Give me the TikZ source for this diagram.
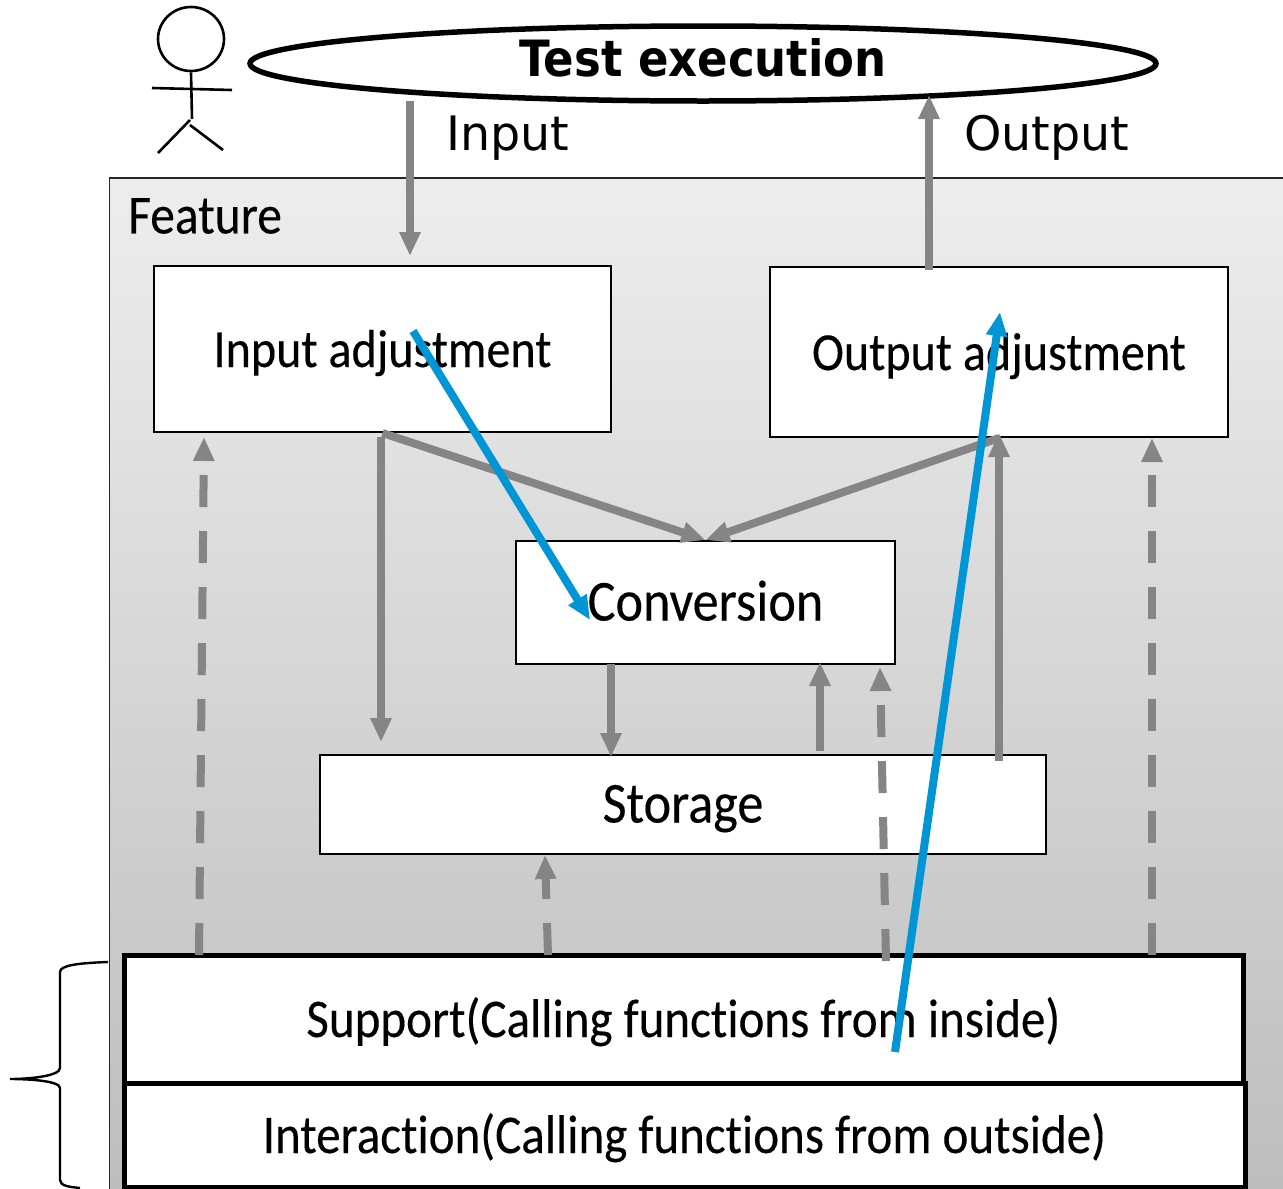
\documentclass[tikz,border=0pt]{standalone}
\usepackage{fontspec}
\setmainfont[Ligatures=NoCommon,FakeStretch=0.9,FakeBold=0.25]{Carlito}
\newfontfamily\labelfont{DejaVu Sans}
\newfontfamily\titlefont[FakeStretch=0.9]{DejaVu Sans}
\usetikzlibrary{arrows.meta,shapes.geometric}
\definecolor{flowgray}{HTML}{858585}
\definecolor{pathblue}{HTML}{0096D6}
\newcommand{\boxtext}[1]{\raisebox{-18pt}[0pt][0pt]{#1}}
\tikzset{
  box/.style={draw=black,fill=white,line width=2pt,inner sep=0pt,font=\fontsize{53.5}{56}\selectfont},
  bigbox/.style={box,font=\fontsize{58}{60}\selectfont},
  layerbox/.style={box,line width=5pt,font=\fontsize{54.5}{56}\selectfont},
  flow/.style={draw=flowgray,line width=8pt,-{Triangle[length=24pt,width=20pt]}},
  callflow/.style={flow,dash pattern=on 32pt off 24pt},
  testpath/.style={draw=pathblue,line width=8pt,-{Triangle[length=24pt,width=20pt]}},
  actor/.style={line width=2.6pt},
  caption/.style={inner sep=0pt,font=\labelfont\fontsize{47.5}{50}\selectfont}
}
\begin{document}
\begin{tikzpicture}[x=1pt,y=-1pt]
  \useasboundingbox (0,0) rectangle (1283,1189);
  \node[draw=black!85,line width=1.8pt,top color=black!7,bottom color=black!26,minimum width=1200pt,minimum height=1030pt,inner sep=0pt,anchor=north west] (feature) at (108.5,177) {};
  \node[anchor=west,inner sep=0pt,font=\fontsize{55}{56}\selectfont] (featurename) at (128,216) {Feature};

  \node[box,minimum width=457pt,minimum height=166pt] (inadjust) at (382.5,349) {\boxtext{Input adjustment}};
  \node[box,minimum width=458pt,minimum height=170pt] (outadjust) at (999,352) {\boxtext{Output adjustment}};
  \node[bigbox,minimum width=379pt,minimum height=123pt] (conversion) at (705.5,602.5) {\boxtext{Conversion}};
  \node[bigbox,minimum width=726pt,minimum height=99pt] (storage) at (683,804.5) {\boxtext{Storage}};
  \node[layerbox,minimum width=1119pt,minimum height=128pt] (support) at (683.5,1019) {\boxtext{Support(Calling functions from inside)}};
  \node[layerbox,minimum width=1121pt,minimum height=104pt] (interaction) at (684.5,1135) {\boxtext{Interaction(Calling functions from outside)}};

  \node[draw=black,line width=5.5pt,ellipse,fill=white,inner sep=0pt,minimum width=906pt,minimum height=75pt,font=\titlefont\bfseries\fontsize{50}{52}\selectfont] (test) at (703,63.5) {\raisebox{-13pt}[0pt][0pt]{Test execution}};
  \node[caption,anchor=west] (inputname) at (446,138) {Input};
  \node[caption,anchor=west] (outputname) at (964,138) {Output};

  % actor
  \node[draw=black,actor,ellipse,inner sep=0pt,minimum width=66pt,minimum height=64pt] (head) at (191,39) {};
  \coordinate (hip) at (192,119);
  \draw[actor] (head.south) -- (hip);
  \draw[actor] (152,88) -- (232,90);
  \draw[actor] (190,120) -- (158,153);
  \draw[actor] (190,125) -- (223,150);

  % brace
  \draw[line width=2.4pt] (108,962) .. controls (80,963) and (60,965) .. (60,972)
    -- (60,1068) .. controls (60,1076) and (30,1079) .. (10,1079)
    .. controls (30,1079) and (60,1081) .. (60,1088)
    -- (60,1180) .. controls (60,1186) and (70,1187) .. (80,1188);

  \coordinate (inputstart) at (410,101);
  \coordinate (inputend) at (410,256);
  \coordinate (outputstart) at (929,270);
  \coordinate (outputend) at (929,95);
  \coordinate (leftstart) at (381,437);
  \coordinate (leftend) at (381,742);
  \coordinate (convout) at (611,664);
  \coordinate (storein) at (611,757);
  \coordinate (storeout) at (820,751);
  \coordinate (convin) at (820,662);
  \coordinate (riseup) at (999,761);
  \coordinate (risetop) at (999,433);
  \coordinate (supA) at (199,955);
  \coordinate (inA) at (204,437);
  \coordinate (supB) at (548,955);
  \coordinate (stB) at (545,855);
  \coordinate (supC) at (886,961);
  \coordinate (convC) at (880,667);
  \coordinate (supD) at (1152,955);
  \coordinate (outD) at (1152,438);
  \coordinate (pathAstart) at (413,331);
  \coordinate (pathAend) at (590,620);
  \coordinate (pathBstart) at (895,1052);
  \coordinate (pathBend) at (1000,312);

  \begin{scope}
    \draw[flow] (inputstart) to (inputend);
    \draw[flow] (outputstart) to (outputend);
    \draw[flow] (inadjust.south) to (conversion.north);
    \draw[flow] (outadjust.south) to (conversion.north);
    \draw[flow] (leftstart) to (leftend);
    \draw[flow] (convout) to (storein);
    \draw[flow] (storeout) to (convin);
    \draw[flow] (riseup) to (risetop);
  \end{scope}
  \begin{scope}
    \draw[callflow] (supA) to (inA);
    \draw[callflow] (supB) to (stB);
    \draw[callflow] (supC) to (convC);
    \draw[callflow] (supD) to (outD);
  \end{scope}
  \begin{scope}
    \draw[testpath] (pathAstart) to (pathAend);
    \draw[testpath] (pathBstart) to (pathBend);
  \end{scope}
\end{tikzpicture}
\end{document}
